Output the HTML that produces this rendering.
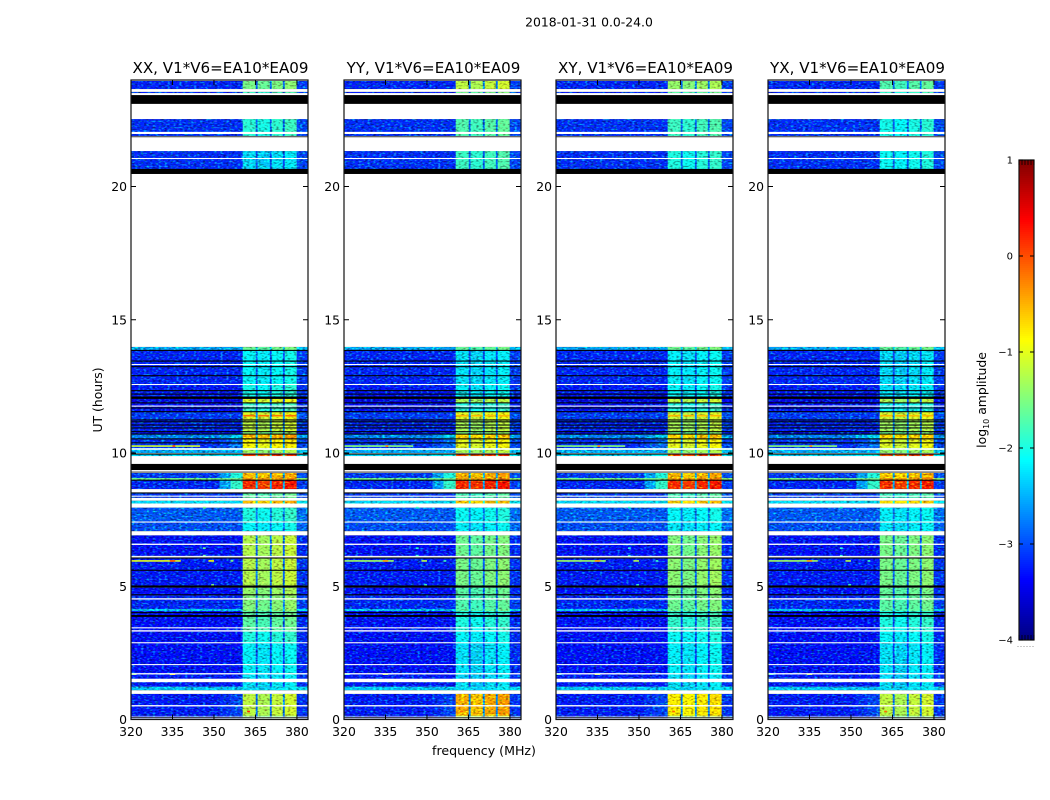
<!DOCTYPE html>
<html lang="en">
<head>
<meta charset="utf-8">
<title>2018-01-31 0.0-24.0</title>
<style>
html,body{margin:0;padding:0;background:#fff;}
svg{display:block;}
text{font-family:"DejaVu Sans","Liberation Sans",sans-serif;fill:#000;}
</style>
</head>
<body>
<svg id="figure" xmlns="http://www.w3.org/2000/svg" width="1050" height="800" viewBox="0 0 1050 800">
  <defs>
    <filter id="speckle" x="0" y="0" width="100%" height="100%" color-interpolation-filters="sRGB">
      <feTurbulence type="fractalNoise" baseFrequency="0.34 0.62" numOctaves="1" seed="7" result="n"/>
      <feColorMatrix in="n" type="matrix" values="0.8 0 0 0 -0.45  0 2.0 0 0 -1.0  0 0 0 0 0  0 0 0 0 1" result="up"/>
      <feColorMatrix in="n" type="matrix" values="0 0 -1.4 0 1.7  0 0 -1.8 0 1.9  0 0 -1.7 0 1.85  0 0 0 0 1" result="down"/>
      <feComposite in="SourceGraphic" in2="up" operator="arithmetic" k1="0" k2="1" k3="1" k4="0" result="a"/>
      <feComposite in="a" in2="down" operator="arithmetic" k1="1" k2="0" k3="0" k4="0" result="b"/>
      <feComposite in="b" in2="SourceAlpha" operator="in"/>
    </filter>
  </defs>
  <text x="589" y="26.5" font-size="12.4" text-anchor="middle">2018-01-31 0.0-24.0</text>
  <text x="484" y="755" font-size="12.6" text-anchor="middle">frequency (MHz)</text>
  <text transform="translate(102 400) rotate(-90)" font-size="12.4" text-anchor="middle">UT (hours)</text>
  <text transform="translate(986 400) rotate(-90)" font-size="12.4" text-anchor="middle">log<tspan font-size="8" dy="3">10</tspan><tspan dy="-3"> amplitude</tspan></text>
  <g id="panels"></g>
  <g id="colorbar"></g>
</svg>
<script>
// ----- chart data (hours UT, MHz, log10 amplitude) -----
const panelNames = ["XX, V1*V6=EA10*EA09", "YY, V1*V6=EA10*EA09", "XY, V1*V6=EA10*EA09", "YX, V1*V6=EA10*EA09"];
const hourTicks = [0, 5, 10, 15, 20];
const freqTicks = [320, 335, 350, 365, 380];
const colorTicks = [1, 0, -1, -2, -3, -4];

const scanStart = [23.96,23.55,22.53,21.33,13.98,13.87,12.57,12.03,11.88,11.55,11.24,10.80,10.71,10.53,10.19,9.96,9.25,9.06,8.98,8.52,8.21,7.95,7.39,6.91,6.04,4.95,4.65,4.15,4.07,3.30,2.86,1.69,1.23,0.96,0.14];
const scanEnd   = [23.66,23.51,21.90,20.66,13.87,12.57,12.03,11.88,11.55,11.24,10.80,10.71,10.53,10.19,10.00,9.89,9.06,8.98,8.65,8.32,8.11,7.39,7.07,6.10,5.03,4.65,4.15,4.07,3.30,2.86,1.69,1.23,1.10,0.14,0.00];
const scanLow   = [-3.25,-3.25,-3.2,-3.2,-2.6,-3.25,-3.3,-3.5,-3.35,-3.15,-3.25,-3.4,-2.8,-3.2,-2.6,-2.35,-3.15,-1.6,-3.25,-3.15,-2.35,-3.0,-3.05,-3.35,-3.3,-3.35,-3.25,-2.45,-3.35,-3.35,-3.35,-3.3,-2.45,-3.3,-3.25];
const scanShoulder = [-3.25,-3.25,-3.2,-3.2,-2.6,-3.25,-3.3,-3.5,-3.35,-3.15,-3.25,-3.4,-2.4,-2.9,-2.6,-2.1,-2.0,-1.6,-1.9,-3.15,-2.35,-3.0,-3.05,-3.35,-3.3,-3.35,-3.25,-2.45,-3.35,-3.35,-3.35,-3.3,-2.45,-3.1,-3.25];
const subXX = [-1.55,-1.85,-1.95,-2.35,-1.6,-2.15,-2.05,-1.05,-1.9,-1.05,-1.2,-1.5,-0.45,-0.9,-1.35,0.1,-0.5,-0.3,0.22,-1.7,-0.55,-2.0,-2.15,-1.25,-1.25,-1.4,-1.5,-1.5,-1.7,-2.0,-2.2,-2.3,-2.3,-1.2,-1.5];
const subYY = [-1.2,-1.6,-1.75,-1.85,-1.65,-2.3,-2.2,-1.3,-2.0,-1.05,-1.3,-1.5,-0.6,-1.0,-1.3,0.1,-0.45,-0.3,0.25,-1.8,-0.6,-2.1,-2.2,-1.6,-1.55,-1.7,-1.75,-1.7,-2.0,-2.15,-2.3,-2.35,-2.3,-0.45,-1.2];
const subXY = [-1.4,-1.7,-1.85,-2.0,-1.6,-2.2,-2.15,-1.2,-2.0,-1.15,-1.3,-1.6,-0.6,-1.0,-1.35,0.1,-0.5,-0.3,0.22,-1.8,-0.6,-2.15,-2.25,-1.5,-1.45,-1.55,-1.6,-1.6,-1.9,-2.1,-2.2,-2.3,-2.3,-0.8,-1.3];
const subYX = [-1.75,-1.9,-2.05,-2.1,-1.65,-2.35,-2.3,-1.3,-2.1,-1.1,-1.35,-1.6,-0.65,-1.05,-1.4,0.05,-0.55,-0.3,0.2,-1.85,-0.7,-2.2,-2.25,-1.55,-1.55,-1.65,-1.7,-1.7,-2.0,-2.15,-2.3,-2.35,-2.3,-1.2,-1.5];
const subOffset = [0,-0.08,0.03,0.1];

const whiteStart = [22.05,21.07,13.34,12.59,11.78,10.18,8.40,7.43,6.60,6.14,4.55,3.46,3.35,2.90,2.08,1.74,1.53,0.54,0.11,0.05];
const whiteEnd   = [21.97,21.03,13.30,12.55,11.74,10.12,8.36,7.39,6.55,6.10,4.50,3.42,3.30,2.86,2.04,1.69,1.40,0.49,0.08,0.02];
const blackStart = [23.43,21.88,20.66,13.87,13.47,13.26,12.92,12.36,12.23,12.12,11.90,11.71,11.57,11.26,11.19,11.07,10.96,10.82,10.73,10.55,10.40,9.98,9.59,9.30,9.00,8.52,6.08,5.62,5.03,4.70,4.03,3.92,0.08];
const blackEnd   = [23.10,21.85,20.47,13.83,13.43,13.22,12.88,12.32,12.19,12.03,11.86,11.67,11.53,11.22,11.15,11.03,10.92,10.78,10.69,10.51,10.36,9.94,9.36,9.27,8.96,8.48,6.04,5.58,4.95,4.66,3.99,3.85,0.05];

const hotHour = [5.95,5.95,10.26,10.26,1.70,1.70,7.95,6.43,6.15,5.05,0.30,5.95,5.95,11.40,11.40,11.40,11.40];
const hotFreqA = [320,334,320,335,334,320,346,346,346,349,362,348,356,360.6,366,371,375.8];
const hotFreqB = [338,336,345,336,336,322,347,347,347,350,363,350,357,365,370,374.8,379.8];
const hotValue = [-1.0,0.0,-1.1,0.1,-0.8,-1.5,-1.5,-1.6,-1.6,-1.5,0.2,-0.9,-1.5,-0.15,-0.15,-0.2,-0.15];

// ----- axis functions and colormap -----
const panelLeft = [131,344,556,768];
const PANEL_W = 177, PANEL_TOP = 80, PANEL_BOTTOM = 719.5;
const freqEdges = [320,352,356,360.4,365.1,365.8,370.2,370.9,374.9,375.6,379.9,384];
function xPos(f, p){ return panelLeft[p] + (f-320)*PANEL_W/64; }
function yPos(h){ return 719.5 - h*26.65; }
function cbY(v){ return 640 - (v+4)*96; }
function clamp(v){ return Math.max(0, Math.min(1, v)); }
function jet(v){
  const t = clamp((v+4)/5);
  const r = clamp(1.5-Math.abs(4*t-3));
  const g = clamp(1.5-Math.abs(4*t-2));
  const b = clamp(1.5-Math.abs(4*t-1));
  return "rgb("+Math.round(r*255)+","+Math.round(g*255)+","+Math.round(b*255)+")";
}
const NS = "http://www.w3.org/2000/svg";
function mk(tag, parent, attrs){
  const el = document.createElementNS(NS, tag);
  for (const k in attrs) el.setAttribute(k, attrs[k]);
  parent.appendChild(el);
  return el;
}
const subSeries = [subXX, subYY, subXY, subYX];
const panelsRoot = document.getElementById("panels");

panelNames.forEach(function(name, p){
  const panel = mk("g", panelsRoot, {});
  
  
  const heat = mk("g", panel, {filter:"url(#speckle)"});
  
  

  scanStart.forEach(function(t0, i){
    const low = scanLow[i], sh = scanShoulder[i], sub = subSeries[p][i];
    const gap = low + (sub-low)*0.2;
    const cellVals = [low, low+(sh-low)*0.45, sh, sub+subOffset[0], gap, sub+subOffset[1], gap, sub+subOffset[2], gap, sub+subOffset[3], low+0.12];
    cellVals.forEach(function(v, c){
      const x0 = xPos(freqEdges[c], p), x1 = xPos(freqEdges[c+1], p);
      const y0 = yPos(t0), y1 = yPos(scanEnd[i]);
      const cell = mk("rect", heat, {x:x0, y:y0, width:x1-x0+0.2, height:y1-y0+0.1, fill:jet(v)});
      
      
    });
  });

  hotHour.forEach(function(h, i){
    const x0 = xPos(hotFreqA[i], p), x1 = xPos(hotFreqB[i], p);
    const hot = mk("rect", panel, {x:x0, y:yPos(h)-0.8, width:x1-x0, height:1.6, fill:jet(hotValue[i]-(p===0?0:0.35))});
    
    
  });

  whiteStart.forEach(function(t0, i){
    const line = mk("rect", panel, {x:xPos(320,p), y:yPos(t0), width:PANEL_W, height:yPos(whiteEnd[i])-yPos(t0), fill:"#fff"});
    
    
  });
  blackStart.forEach(function(t0, i){
    const line = mk("rect", panel, {x:xPos(320,p), y:yPos(t0), width:PANEL_W, height:yPos(blackEnd[i])-yPos(t0), fill:"#000"});
    
    
  });

  const frame = mk("rect", panel, {x:panelLeft[p], y:PANEL_TOP, width:PANEL_W, height:PANEL_BOTTOM-PANEL_TOP, fill:"none", stroke:"#111", "stroke-width":1.2});
  
  

  const title = mk("text", panel, {x:panelLeft[p]+89.5, y:73, "font-size":15.1, "text-anchor":"middle"});
  
  
  title.textContent = name;

  hourTicks.forEach(function(h){
    const y = yPos(h);
    if (h > 0) {
      const a = mk("line", panel, {x1:panelLeft[p], x2:panelLeft[p]+5, y1:y, y2:y, stroke:"#000", "stroke-width":1});
      
      
      const b = mk("line", panel, {x1:panelLeft[p]+PANEL_W-5, x2:panelLeft[p]+PANEL_W, y1:y, y2:y, stroke:"#000", "stroke-width":1});
      
      
    }
    const lab = mk("text", panel, {x:panelLeft[p]-4, y:y+4.5, "font-size":12.4, "text-anchor":"end"});
    
    
    lab.textContent = h;
  });
  freqTicks.forEach(function(f){
    const x = xPos(f,p);
    if (f > 320) {
      const a = mk("line", panel, {x1:x, x2:x, y1:PANEL_BOTTOM, y2:PANEL_BOTTOM-5, stroke:"#000", "stroke-width":1});
      
      
      const b = mk("line", panel, {x1:x, x2:x, y1:PANEL_TOP, y2:PANEL_TOP+5, stroke:"#000", "stroke-width":1});
      
      
    }
    const lab = mk("text", panel, {x:x, y:736, "font-size":12.4, "text-anchor":"middle"});
    
    
    lab.textContent = f;
  });
});

// ----- colorbar -----
const cbar = document.getElementById("colorbar");
const CB_L = 1019, CB_W = 15;
for (let py = 160; py < 640; py += 2) {
  const seg = mk("rect", cbar, {x:CB_L, y:py, width:CB_W, height:2.2, fill:jet(-4+(640-py-1)/96)});
  
  
}
const cbFrame = mk("rect", cbar, {x:CB_L, y:160, width:CB_W, height:480, fill:"none", stroke:"#111", "stroke-width":1.2});


colorTicks.forEach(function(v){
  const y = cbY(v);
  const a = mk("line", cbar, {x1:CB_L, x2:CB_L+4, y1:y, y2:y, stroke:"#000", "stroke-width":1});
  
  
  const b = mk("line", cbar, {x1:CB_L+CB_W-4, x2:CB_L+CB_W, y1:y, y2:y, stroke:"#000", "stroke-width":1});
  
  
  const lab = mk("text", cbar, {x:1013, y:y+3.5, "font-size":10, "text-anchor":"end"});
  
  
  lab.textContent = (v < 0 ? "\u2212" + Math.abs(v) : String(v));
});
for (let k = 0; k < 6; k++) {
  const x = CB_L + k*CB_W/5;
  const t1 = mk("line", cbar, {x1:x, x2:x, y1:160, y2:165, stroke:"#000", "stroke-width":0.8});
  
  
  const t2 = mk("line", cbar, {x1:x, x2:x, y1:640, y2:635, stroke:"#000", "stroke-width":0.8});
  
  
  const d = mk("rect", cbar, {x:x-1.5, y:646, width:1, height:1, fill:"#999"});
  
  
}
</script>
</body>
</html>
